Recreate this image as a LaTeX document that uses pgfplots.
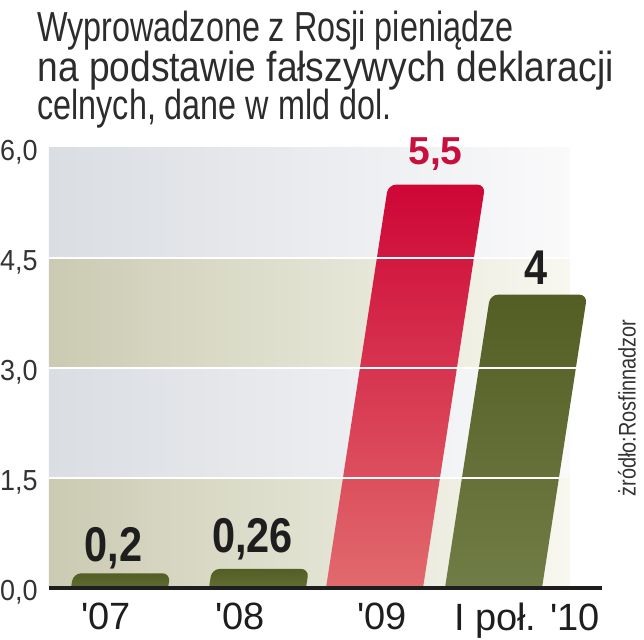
\documentclass[border=0pt]{standalone}
\usepackage{fontspec}
\setmainfont{Liberation Sans}
\newfontfamily\titlefont[FakeStretch=0.77]{Liberation Sans}
\newfontfamily\titlefontb[FakeStretch=0.885]{Liberation Sans}
\newfontfamily\valfont[FakeStretch=0.85]{Liberation Sans}
\newfontfamily\yfont[FakeStretch=0.93]{Liberation Sans}
\newfontfamily\srcfont[FakeStretch=0.83]{Liberation Sans}
\usepackage{pgfplots}
\pgfplotsset{compat=1.18}
\definecolor{olivL}{HTML}{CBCBB3}
\definecolor{olivR}{HTML}{F8F8F0}
\definecolor{greyL}{HTML}{DADDE2}
\definecolor{greyR}{HTML}{FAFAFB}
\definecolor{redT}{HTML}{CE0636}
\definecolor{redB}{HTML}{E27070}
\definecolor{grnT}{HTML}{535E24}
\definecolor{grnB}{HTML}{737F48}
\definecolor{valred}{HTML}{C8103C}
\definecolor{txt}{HTML}{1E1E1E}
\definecolor{ttl}{HTML}{2C2C2C}
\definecolor{txtl}{HTML}{333333}
\begin{document}
\begin{tikzpicture}
\begin{axis}[
  scale only axis, width=276.5pt, height=220pt,
  xmin=49, xmax=602, ymin=0, ymax=6,
  clip mode=individual,
  axis on top,
  axis x line*=bottom, axis y line*=left,
  x axis line style={-, line width=1.6pt, color=txt},
  y axis line style={draw=none},
  major tick length=0pt,
  xtick={106,240,382,527},
  xticklabels={{\textquotesingle07},{\textquotesingle08},{\textquotesingle09},{I poł. \textquotesingle10}},
  ytick={0,1.5,3,4.5,6},
  yticklabels={{0,0},{1,5},{3,0},{4,5},{6,0}},
  xticklabel style={font=\fontsize{19}{19}\selectfont, text=txt, inner sep=0pt, anchor=north, yshift=-7.5pt},
  yticklabel style={font=\yfont\fontsize{14.5}{14.5}\selectfont, text=txtl, inner sep=0pt, anchor=east, xshift=-5.5pt, yshift=-2pt},
]
% background bands
\addplot[draw=none, left color=olivL, right color=olivR] coordinates {(49,0)(570,0)(570,1.5)(49,1.5)} -- cycle;
\addplot[draw=none, left color=greyL, right color=greyR] coordinates {(49,1.5)(570,1.5)(570,3)(49,3)} -- cycle;
\addplot[draw=none, left color=olivL, right color=olivR] coordinates {(49,3)(570,3)(570,4.5)(49,4.5)} -- cycle;
\addplot[draw=none, left color=greyL, right color=greyR] coordinates {(49,4.5)(570,4.5)(570,6)(49,6)} -- cycle;
% bars (slanted)
\addplot[draw=none, rounded corners=4pt, top color=grnT, bottom color=grnB] coordinates {(67.6,-0.3)(164.6,-0.3)(170.3,0.2)(73.3,0.2)} -- cycle;
\addplot[draw=none, rounded corners=4pt, top color=grnT, bottom color=grnB] coordinates {(205.6,-0.3)(302.6,-0.3)(308.9,0.26)(211.9,0.26)} -- cycle;
\addplot[draw=none, rounded corners=4pt, top color=redT, bottom color=redB] coordinates {(322.6,-0.3)(419.6,-0.3)(485.2,5.5)(388.2,5.5)} -- cycle;
\addplot[draw=none, rounded corners=4pt, top color=grnT, bottom color=grnB] coordinates {(441.6,-0.3)(538.6,-0.3)(587.2,4)(490.2,4)} -- cycle;
% white separators
\addplot[white, line width=1.1pt] coordinates {(49,1.5)(560,1.5)};
\addplot[white, line width=1.1pt] coordinates {(49,3)(577,3)};
\addplot[white, line width=1.1pt] coordinates {(49,4.5)(577,4.5)};
% value labels
\node[anchor=base, inner sep=0pt, font=\valfont\bfseries\fontsize{24.4}{24}\selectfont, text=txt] at (axis cs:113.5,0.355) {0,2};
\node[anchor=base, inner sep=0pt, font=\valfont\bfseries\fontsize{24.4}{24}\selectfont, text=txt] at (axis cs:252.5,0.477) {0,26};
\node[anchor=base, inner sep=0pt, font=\bfseries\fontsize{19.5}{19.5}\selectfont, text=valred] at (axis cs:435.5,5.768) {5,5};
\node[anchor=base, inner sep=0pt, font=\valfont\bfseries\fontsize{24.4}{24}\selectfont, text=txt] at (axis cs:536.5,4.132) {4};
% title
\node[anchor=base west, inner sep=0pt, font=\titlefont\fontsize{21}{21}\selectfont, text=ttl] at (axis cs:37,7.446) {Wyprowadzone z Rosji pieniądze};
\node[anchor=base west, inner sep=0pt, font=\titlefontb\fontsize{21}{21}\selectfont, text=ttl] at (axis cs:37,6.907) {na podstawie fałszywych deklaracji};
\node[anchor=base west, inner sep=0pt, font=\titlefont\fontsize{21}{21}\selectfont, text=ttl] at (axis cs:37,6.382) {celnych, dane w mld dol.};
% source
\node[rotate=90, inner sep=0pt, font=\srcfont\fontsize{12}{12}\selectfont, text=txtl] at (axis cs:627,2.455) {żródło:Rosfinnadzor};
\coordinate (bbsw) at (axis cs:0,-0.709);
\coordinate (bbne) at (axis cs:644,8.018);
\end{axis}
\pgfresetboundingbox
\path[use as bounding box] (bbsw) rectangle (bbne);
\end{tikzpicture}
\end{document}
